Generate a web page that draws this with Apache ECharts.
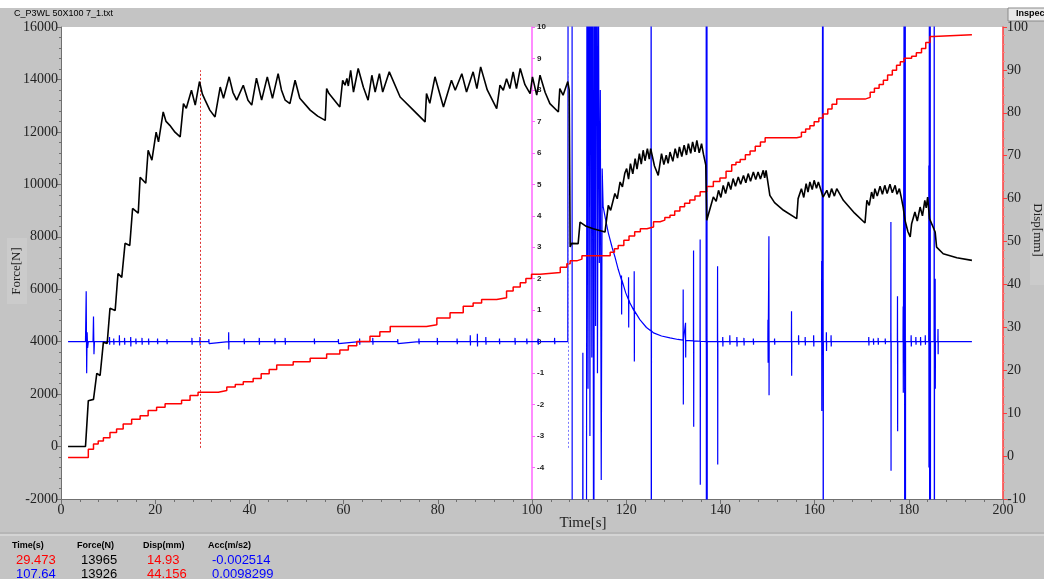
<!DOCTYPE html>
<html>
<head>
<meta charset="utf-8">
<script src="https://cdn.jsdelivr.net/npm/echarts@6.0.0/dist/echarts.min.js"></script>
<style>
  html, body { margin: 0; padding: 0; background: #c4c4c4; }
  #main { width: 1044px; height: 579px; }
</style>
</head>
<body>
<div id="main"></div>
<script>
// time [s] ticks
var timeTicks = [0, 20, 40, 60, 80, 100, 120, 140, 160, 180, 200]

// force [N] vs time
var forceData = [
  [1.5, 0], [5.2, 0], [5.8, 1750], [6.9, 1800], [7.6, 2790], [8.3, 2710], [9.0, 3980], [9.8, 3930],
  [10.4, 5270], [11.5, 5190], [12.1, 6600], [12.9, 6450], [13.6, 7750], [14.6, 7670], [15.2, 9080], [16.4, 8900],
  [16.8, 10270], [18.0, 10040], [18.5, 11300], [19.3, 10920], [20.2, 11990], [20.7, 11620], [21.7, 12760],
  [22.3, 12400], [23.1, 12250], [24.2, 11990], [25.3, 11810], [26.0, 13080], [26.6, 12900], [27.7, 13590], [28.5, 13020],
  [29.4, 13920], [30.0, 13450], [30.6, 13210], [31.6, 12830], [32.7, 12570], [33.8, 13710], [34.5, 13280], [35.7, 14100],
  [36.5, 13510], [37.3, 13210], [38.7, 13780], [39.7, 13210], [40.5, 13020], [41.5, 14050], [42.6, 13210],
  [43.8, 14100], [44.9, 13280], [46.1, 14220], [46.8, 13600], [47.6, 13210], [48.6, 13080], [49.7, 13970], [50.7, 13280],
  [52.9, 12830], [54.5, 12600], [56.1, 12440], [56.4, 13650], [56.9, 13460], [59.2, 12950], [59.8, 13970],
  [60.3, 13780], [60.7, 14040], [61.0, 13750], [61.5, 14350], [62.1, 13520], [63.1, 14420], [64.2, 13700], [65.2, 13210],
  [66.0, 14160], [66.7, 13520], [67.6, 14220], [68.3, 13520], [69.7, 14290], [72.0, 13330], [74.8, 12830],
  [77.3, 12380], [77.6, 13460], [78.3, 13090], [79.4, 14100], [81.2, 12950], [82.9, 13970], [83.7, 13590],
  [85.1, 14220], [86.1, 13520], [87.5, 14290], [88.3, 13650], [89.1, 14480], [90.5, 13600], [92.5, 12890],
  [93.2, 13780], [93.9, 13590], [94.6, 14030], [95.3, 13650], [96.0, 14290], [96.7, 13650], [97.5, 14420],
  [98.5, 13800], [99.6, 13460], [100.1, 14100], [101.0, 13400], [101.7, 14160], [102.8, 13500], [103.8, 13080],
  [105.6, 12760], [105.9, 13650], [106.6, 13400], [107.6, 13920], [107.9, 13600], [108.1, 7610], [108.4, 7750],
  [109.8, 7740], [110.2, 8560], [111.5, 8400], [113.0, 8310], [115.5, 8180], [116.2, 9200], [116.7, 9010],
  [117.6, 9650], [118.1, 9450], [118.7, 10090], [119.2, 9900], [119.7, 10420], [120.1, 10600], [120.5, 10200],
  [120.9, 10790], [121.4, 10400], [121.9, 10980], [122.3, 10580], [122.8, 11170], [123.2, 10770], [123.6, 11300],
  [124.0, 10900], [124.5, 11360], [124.9, 10960], [125.2, 11360], [126.0, 10700], [126.8, 10340], [127.5, 11170],
  [128.0, 10750], [128.5, 11110], [128.9, 10800], [129.3, 11230], [129.9, 10880], [130.4, 11360], [130.9, 11000],
  [131.3, 11430], [131.8, 11060], [132.3, 11490], [132.8, 11120], [133.2, 11550], [133.7, 11180], [134.1, 11620],
  [134.6, 11240], [135.0, 11680], [135.5, 11200], [136.0, 11550], [136.4, 11150], [136.9, 10730], [137.1, 8630],
  [138.5, 9520], [139.1, 9350], [139.6, 9770], [140.1, 9500], [140.6, 9960], [141.1, 9650], [141.7, 10090],
  [142.2, 9800], [142.7, 10220], [143.2, 9930], [143.8, 10280], [144.3, 10000], [144.9, 10340], [145.4, 10060],
  [145.9, 10410], [146.4, 10120], [147.0, 10470], [147.5, 10180], [148.0, 10470], [148.5, 10200], [149.1, 10535],
  [149.4, 10250], [149.7, 10535], [150.5, 9580], [151.5, 9300], [153.4, 9010], [156.2, 8690], [156.5, 9455],
  [157.2, 9836], [157.7, 9500], [158.2, 10027], [158.6, 9700], [159.0, 10089], [159.5, 9800], [159.9, 10153],
  [160.4, 9850], [160.8, 10089], [161.8, 9516], [162.6, 9772], [163.1, 9500], [163.6, 9836], [164.2, 9550],
  [164.7, 9836], [166.1, 9390], [168.5, 8900], [170.7, 8524], [171.1, 9390], [171.6, 9200], [172.1, 9707],
  [172.5, 9450], [172.8, 9836], [173.3, 9550], [173.9, 9924], [174.4, 9620], [174.9, 9962], [175.4, 9650],
  [176.0, 10001], [176.5, 9680], [177.1, 9962], [177.5, 9620], [178.0, 9836], [178.4, 9500], [178.8, 9134],
  [179.2, 8626], [179.8, 8200], [180.3, 7990], [180.6, 8500], [181.3, 8943], [181.8, 8600], [182.4, 9134],
  [182.9, 8800], [183.4, 9390], [183.7, 9100], [184.0, 9516], [184.4, 8690], [185.6, 8180], [185.9, 7607],
  [187.3, 7355], [190.2, 7202], [193.4, 7100]
]

// displacement [mm] step corners
var dispData = [
  [1.5, -0.3], [5.3, -0.3], [5.8, 1.6], [6.9, 2.8], [7.9, 3.5], [9.0, 4.3], [10.4, 5.5], [11.8, 6.3],
  [13.2, 7.5], [15.0, 8.6], [16.8, 9.4], [18.5, 10.6], [20.3, 11.4], [22.1, 12.2], [25.6, 13.0], [27.4, 14.1],
  [29.1, 14.9], [33.4, 15.3], [35.2, 16.1], [37.0, 16.7], [38.7, 17.3], [40.8, 18.1], [42.5, 19.2], [44.2, 20.2],
  [45.8, 21.2], [49.3, 22.0], [52.9, 22.8], [56.4, 23.8], [59.2, 24.7], [61.0, 25.7], [62.8, 26.7], [65.6, 27.9],
  [67.7, 29.0], [69.9, 30.2], [77.6, 30.6], [79.8, 32.2], [82.6, 33.4], [85.4, 34.9], [87.5, 35.7], [89.3, 36.5],
  [92.5, 36.9], [94.6, 38.5], [96.0, 39.4], [97.5, 40.4], [98.7, 41.4], [99.9, 42.4], [101.7, 42.8], [106.0, 44.0],
  [107.4, 44.8], [108.1, 45.5], [109.5, 45.9], [110.6, 46.7], [115.5, 46.7], [116.6, 47.5], [117.5, 48.3],
  [118.3, 49.1], [119.5, 50.3], [120.6, 51.3], [121.8, 52.3], [123.0, 53.0], [124.4, 53.4], [125.8, 54.6],
  [127.2, 55.0], [128.2, 55.6], [129.3, 56.1], [130.3, 57.1], [131.4, 58.1], [132.4, 58.9], [133.5, 59.7],
  [134.6, 60.6], [135.7, 61.6], [137.1, 62.8], [138.5, 64.0], [139.9, 64.8], [141.2, 66.4], [142.4, 67.9],
  [143.3, 68.5], [144.2, 69.1], [145.3, 70.2], [146.3, 71.1], [147.4, 72.2], [148.5, 73.2], [149.5, 74.2],
  [156.2, 74.4], [157.2, 75.5], [158.1, 76.2], [159.0, 77.0], [159.9, 77.9], [160.9, 78.8], [161.8, 79.7],
  [162.8, 80.9], [163.7, 82.0], [164.7, 83.2], [170.7, 83.6], [171.8, 84.8], [172.7, 85.7], [173.7, 86.6],
  [174.6, 87.6], [175.5, 88.8], [176.5, 89.9], [177.4, 91.1], [178.2, 91.9], [179.0, 92.7], [180.6, 93.2],
  [181.6, 94.0], [182.7, 95.0], [183.6, 96.4], [184.5, 97.8], [185.2, 98.2], [193.4, 98.2]
]

// acceleration [m/s2] main trace
var accLine = [
  [1.5, 0], [5.2, 0], [5.35, 1.6], [5.45, -1.0], [5.55, 0.3], [5.65, -0.2], [5.8, 0], [6.8, 0], [6.9, 0.8],
  [7.0, -0.4], [7.1, 0], [107.6, 0], [107.7, 20], [108.5, 20], [108.55, -20], [110.7, -20], [110.8, -0.35],
  [110.9, -20], [111.5, -20], [111.7, 20], [111.9, -1.5], [112.1, 20], [112.3, -3], [112.5, 20], [112.7, -0.5],
  [112.9, 20], [113.1, -14], [113.3, 20], [113.5, 0.5], [113.7, 20], [113.9, -1], [114.1, 12], [114.3, 2.5],
  [114.5, 8], [114.7, -4.4], [114.9, 5.5], [115.1, 4.3], [115.6, 3.9], [116.2, 3.46], [117.0, 3.0], [117.6, 2.7],
  [118.3, 2.3], [119.0, 1.97], [119.9, 1.55], [120.8, 1.23], [121.8, 0.95], [122.9, 0.7], [124.3, 0.45],
  [125.8, 0.28], [127.5, 0.18], [129.3, 0.12], [131.0, 0.07], [132.8, 0.04], [135.0, 0.02], [137.0, 0], [193.4, 0]
]

// acceleration spikes: time, high, low
var accSpikes = [
  [10.3, 0.15, -0.1], [11.2, 0.1, -0.1], [12.4, 0.2, -0.12], [13.5, 0.12, -0.1], [14.8, 0.15, -0.15],
  [15.9, 0.1, -0.08], [17.2, 0.12, -0.1], [18.6, 0.1, -0.1], [20.5, 0.1, -0.08], [22.5, 0.08, -0.08],
  [27.8, 0.12, -0.1], [29.5, 0.15, -0.12], [31.4, 0.08, -0.06], [35.6, 0.3, -0.25], [38.9, 0.1, -0.08],
  [42.1, 0.12, -0.1], [45.4, 0.1, -0.08], [47.6, 0.12, -0.1], [53.8, 0.1, -0.08], [58.9, 0.08, -0.06],
  [63.4, 0.1, -0.1], [66.2, 0.12, -0.1], [71.5, 0.08, -0.06], [76.0, 0.1, -0.08], [79.9, 0.12, -0.1],
  [84.1, 0.1, -0.08], [86.9, 0.2, -0.12], [88.4, 0.25, -0.15], [90.2, 0.15, -0.1], [93.1, 0.1, -0.08],
  [96.4, 0.12, -0.1], [98.9, 0.1, -0.08], [101.3, 0.1, -0.1], [104.8, 0.12, -0.08],
  [119.0, 2.1, 0.86], [120.5, 2.05, 0.45], [121.7, 2.24, -0.63], [125.3, 20, -20],
  [132.1, 1.66, -2.0], [132.6, 0.6, -0.5], [134.3, 2.9, -2.7], [135.7, 3.25, -4.55],
  [137.0, 20, -20], [137.15, 20, -20], [139.4, 2.4, -3.9], [140.5, 0.15, -0.15], [142.0, 0.2, -0.1],
  [143.5, 0.15, -0.15], [145.0, 0.12, -0.12], [147.0, 0.1, -0.1], [150.1, 0.7, -0.67], [150.3, 3.35, -1.7],
  [151.5, 0.1, -0.1], [155.1, 0.97, -1.08], [156.6, 0.2, -0.1], [158.0, 0.15, -0.12], [159.8, 0.2, -0.15],
  [161.5, 2.56, -2.2], [161.8, 20, -20], [162.5, 0.3, -0.3], [163.5, 0.2, -0.15], [171.5, 0.15, -0.12],
  [172.5, 0.1, -0.1], [173.5, 0.12, -0.1], [175.0, 0.1, -0.08], [176.2, 3.8, -4.1], [177.6, 1.44, -2.85],
  [178.8, 1.12, -1.62], [179.1, 20, -20], [179.25, 20, -20], [180.5, 0.2, -0.15], [181.5, 0.15, -0.1],
  [182.5, 0.15, -0.12], [183.5, 0.2, -0.1], [184.25, 5.6, -4], [184.4, 20, -20], [184.55, 20, -20],
  [185.4, 20, -20], [185.6, 2.0, -1.5], [186.2, 0.4, -0.4]
]

// cursor readouts
var cursorTimes = [29.473, 107.64]
var readHead = ['Time(s)', 'Force(N)', 'Disp(mm)', 'Acc(m/s2)']
var readRow1 = ['29.473', '13965', '14.93', '-0.002514']
var readRow2 = ['107.64', '13926', '44.156', '0.0098299']

function baseAt(t) {
  for (var i = 1; i < accLine.length; i++) {
    if (accLine[i][0] >= t) {
      var a = accLine[i - 1], b = accLine[i]
      return a[1] + (b[1] - a[1]) * (t - a[0]) / (b[0] - a[0])
    }
  }
  return 0
}

var accData = accLine.slice()
accSpikes.forEach(function(s) {
  var b = baseAt(s[0])
  accData.push([s[0] - 0.03, b], [s[0], s[1]], [s[0] + 0.03, s[2]], [s[0] + 0.06, b])
})
accData.sort(function(a, b) { return a[0] - b[0] })

var serif = 'Liberation Serif'
var sans = 'Liberation Sans'

var colX = [12, 77, 143, 208]
var rowColors1 = ['#ff0000', '#000000', '#ff0000', '#0000ff']
var rowColors2 = ['#0000ff', '#000000', '#ff0000', '#0000ff']
var graphics = [
  {type: 'rect', shape: {x: 0, y: 0, width: 1044, height: 8}, style: {fill: '#ffffff'}},
  {type: 'text', x: 14, y: 9, style: {text: 'C_P3WL 50X100 7_1.txt', font: '9px ' + sans, fill: '#000'}},
  {type: 'rect', shape: {x: 1008, y: 8, width: 40, height: 13}, style: {fill: '#e8e8e8', stroke: '#8a8a8a'}},
  {type: 'text', x: 1016, y: 9, style: {text: 'Inspect', font: 'bold 9px ' + sans, fill: '#000'}},
  {type: 'rect', shape: {x: 7, y: 238, width: 20, height: 66}, style: {fill: '#cbcbcb'}},
  {type: 'text', x: 17, y: 271, rotation: Math.PI / 2,
    style: {text: 'Force[N]', font: '13px ' + serif, fill: '#222', align: 'center', verticalAlign: 'middle'}},
  {type: 'rect', shape: {x: 1030, y: 205, width: 14, height: 80}, style: {fill: '#cbcbcb'}},
  {type: 'text', x: 1037, y: 230, rotation: -Math.PI / 2,
    style: {text: 'Disp[mm]', font: '13px ' + serif, fill: '#222', align: 'center', verticalAlign: 'middle'}},
  {type: 'text', x: 583, y: 523, style: {text: 'Time[s]', font: '15px ' + serif, fill: '#222', align: 'center', verticalAlign: 'middle'}},
  {type: 'line', shape: {x1: 0, y1: 533, x2: 1044, y2: 533}, style: {stroke: '#a8a8a8', lineWidth: 1}},
  {type: 'line', shape: {x1: 0, y1: 535, x2: 1044, y2: 535}, style: {stroke: '#e4e4e4', lineWidth: 1}}
]
readHead.forEach(function(h, i) {
  graphics.push({type: 'text', x: colX[i], y: 546, style: {text: h, font: 'bold 9px ' + sans, fill: '#000', verticalAlign: 'middle'}})
  graphics.push({type: 'text', x: colX[i] + 4, y: 560, style: {text: readRow1[i], font: '13px ' + sans, fill: rowColors1[i], verticalAlign: 'middle'}})
  graphics.push({type: 'text', x: colX[i] + 4, y: 574, style: {text: readRow2[i], font: '13px ' + sans, fill: rowColors2[i], verticalAlign: 'middle'}})
})

var myChart = echarts.init(document.getElementById('main'))
var option = {
  animation: false,
  backgroundColor: '#c4c4c4',
  grid: {
    left: 61,
    right: 41,
    top: 27,
    bottom: 80,
    show: true,
    backgroundColor: '#ffffff',
    borderWidth: 0
  },
  xAxis: {
    type: 'value',
    min: timeTicks[0],
    max: timeTicks[timeTicks.length - 1],
    interval: 20,
    axisLine: {onZero: false, lineStyle: {color: '#707070'}},
    axisTick: {length: 5, lineStyle: {color: '#707070'}},
    minorTick: {show: true, splitNumber: 5, length: 3, lineStyle: {color: '#707070'}},
    splitLine: {show: false},
    axisLabel: {color: '#222', fontFamily: serif, fontSize: 14, margin: 4}
  },
  yAxis: [
    {
      type: 'value',
      position: 'left',
      min: -2000,
      max: 16000,
      interval: 2000,
      axisLine: {show: true, onZero: false, lineStyle: {color: '#707070'}},
      axisTick: {show: true, length: 4, lineStyle: {color: '#707070'}},
      minorTick: {show: true, splitNumber: 5, length: 2, lineStyle: {color: '#707070'}},
      splitLine: {show: false},
      axisLabel: {color: '#222', fontFamily: serif, fontSize: 14, margin: 3, formatter: function(v) { return String(v) }}
    },
    {
      type: 'value',
      position: 'right',
      min: -10,
      max: 100,
      interval: 10,
      axisLine: {show: true, onZero: false, lineStyle: {color: '#ff3b3b', width: 1.5}},
      axisTick: {show: true, length: 4, lineStyle: {color: '#ff3b3b'}},
      minorTick: {show: true, splitNumber: 5, length: 2, lineStyle: {color: '#ff8080'}},
      splitLine: {show: false},
      axisLabel: {color: '#222', fontFamily: serif, fontSize: 14, margin: 4}
    },
    {
      type: 'value',
      position: 'left',
      offset: -471,
      min: -5,
      max: 10,
      interval: 1,
      axisLine: {show: true, onZero: false, lineStyle: {color: '#ff66ff', width: 1.5}},
      axisTick: {show: true, inside: true, length: 3, lineStyle: {color: '#ff66ff'}},
      splitLine: {show: false},
      axisLabel: {inside: true, showMinLabel: false, color: '#222', fontFamily: sans, fontWeight: 'bold', fontSize: 8, margin: 5}
    }
  ],
  series: [
    {
      name: 'Acc',
      type: 'line',
      yAxisIndex: 2,
      data: accData,
      showSymbol: false,
      sampling: null,
      lineStyle: {color: '#0000ff', width: 1.2},
      z: 3
    },
    {
      name: 'Disp',
      type: 'line',
      yAxisIndex: 1,
      data: dispData,
      step: 'end',
      showSymbol: false,
      lineStyle: {color: '#ff0000', width: 1.5},
      z: 4
    },
    {
      name: 'Force',
      type: 'line',
      yAxisIndex: 0,
      data: forceData,
      showSymbol: false,
      lineStyle: {color: '#000000', width: 1.6},
      z: 5,
      markLine: {
        silent: true,
        symbol: 'none',
        label: {show: false},
        data: [
          [{coord: [cursorTimes[0], -50], lineStyle: {color: '#e03030', type: [2, 2], width: 1}},
            {coord: [cursorTimes[0], 14350]}],
          [{coord: [cursorTimes[1], -50], lineStyle: {color: '#7a7aff', type: [2, 2], width: 1}},
            {coord: [cursorTimes[1], 14350]}]
        ]
      }
    }
  ],
  graphic: graphics
}
myChart.setOption(option)
</script>
</body>
</html>
